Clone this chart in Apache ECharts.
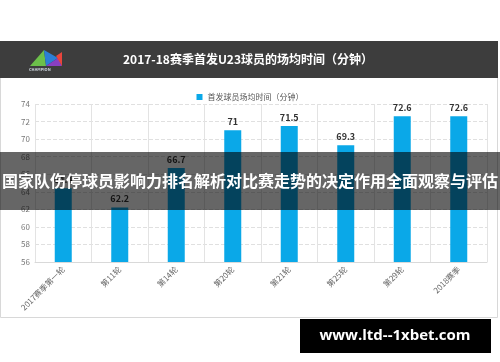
<!DOCTYPE html>
<html><head><meta charset="utf-8">
<script src="https://cdn.jsdelivr.net/npm/echarts@6/dist/echarts.min.js"></script>
<style>html,body{margin:0;padding:0;background:#fff}#c{width:500px;height:362px}</style>
</head><body><div id="c"></div>
<script>
const categories = ['2017赛季第一轮','第11轮','第14轮','第20轮','第21轮','第25轮','第29轮','2018赛季'];
const values = [64.4, 62.2, 66.7, 71, 71.5, 69.3, 72.6, 72.6];
const seriesName = '首发球员场均时间（分钟）';
const chartTitle = '2017-18赛季首发U23球员的场均时间（分钟）';
const bannerText = '国家队伤停球员影响力排名解析对比赛走势的决定作用全面观察与评估';
const watermark = 'www.ltd--1xbet.com';
const yMin = 56, yMax = 74, yStep = 2;

const F = '"Noto Sans CJK SC", "Noto Sans", sans-serif';
const chart = echarts.init(document.getElementById('c'));
chart.setOption({
  animation: false,
  backgroundColor: '#fff',
  graphic: [
    {type:'rect', z:-10, shape:{x:0.5,y:41.5,width:497,height:276}, style:{fill:'#fff', stroke:'#d8d8d8', lineWidth:1}},
    {type:'rect', z:-5, shape:{x:0,y:41,width:498,height:37}, style:{fill:'#3d3d3d'}},
    {type:'polygon', z:1, shape:{points:[[30,66],[44,50],[46,66]]}, style:{fill:'#6cc04a'}},
    {type:'polygon', z:1, shape:{points:[[44,50],[46,66],[58,58]]}, style:{fill:'#2b7fd6'}},
    {type:'polygon', z:1, shape:{points:[[46,66],[58,58],[62,66]]}, style:{fill:'#8a3fc2'}},
    {type:'polygon', z:1, shape:{points:[[56,56],[62,52],[62,66]]}, style:{fill:'#e8453c'}},
    {type:'text', z:1, left:29, top:67, style:{text:'CHAMPION', fill:'#cfd8e0', font:'bold 4px '+F}},
    {type:'text', z:1, x:248, y:59, style:{text:chartTitle, fill:'#ffffff', font:'bold 12px '+F, align:'center', verticalAlign:'middle'}},
    {type:'rect', z:100, shape:{x:0,y:152,width:500,height:58}, style:{fill:'rgba(0,0,0,0.6)'}},
    {type:'text', z:101, x:250, y:181, style:{text:bannerText, fill:'#ffffff', font:'bold 16px '+F, align:'center', verticalAlign:'middle'}},
    {type:'rect', z:100, shape:{x:300,y:319,width:191,height:34}, style:{fill:'#000'}},
    {type:'text', z:101, x:395, y:336, style:{text:watermark, fill:'#ffffff', font:'bold 15px "Open Sans", "DejaVu Sans", sans-serif', align:'center', verticalAlign:'middle'}}
  ],
  legend: {
    top: 88, left: 'center',
    itemWidth: 6, itemHeight: 6, icon: 'rect',
    textStyle: {fontSize: 8, color: '#555', fontFamily: F},
    data: [seriesName]
  },
  grid: {left: 35, right: 13, top: 104, bottom: 100, containLabel: false},
  xAxis: {
    type: 'category', data: categories,
    axisLine: {lineStyle: {color: '#d9d9d9'}},
    axisTick: {show: false},
    splitLine: {show: true, lineStyle: {color: '#e3e3e3', type: 'solid'}},
    axisLabel: {rotate: 45, fontSize: 8, color: '#666', fontFamily: F, margin: 6, interval: 0}
  },
  yAxis: {
    type: 'value', min: yMin, max: yMax, interval: yStep,
    axisLine: {show: false}, axisTick: {show: false},
    splitLine: {lineStyle: {color: '#e0e0e0', type: 'dashed'}},
    axisLabel: {fontSize: 8, color: '#777', fontFamily: F, margin: 5}
  },
  series: [{
    name: seriesName, type: 'bar', data: values, barWidth: 17,
    itemStyle: {color: '#0aa8e8'},
    label: {show: true, position: 'top', fontSize: 9, fontWeight: 'bold', color: '#333', fontFamily: F, distance: 4}
  }]
});
</script></body></html>
